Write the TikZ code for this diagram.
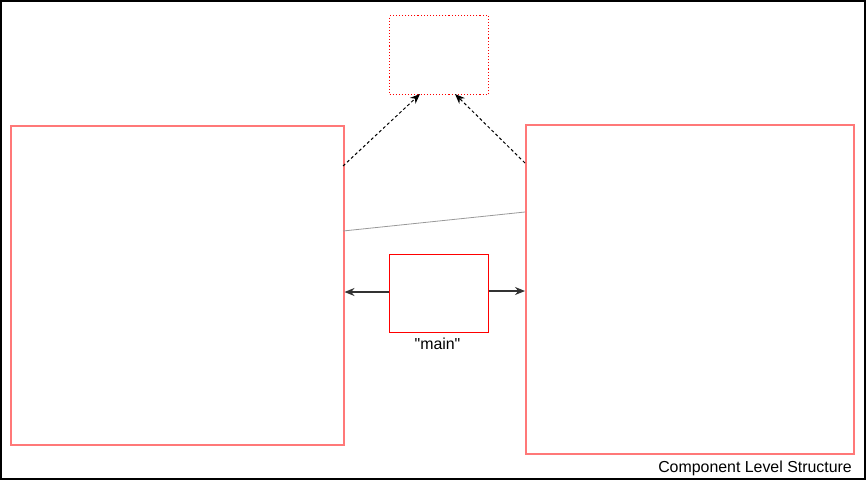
\documentclass[tikz,border=0pt]{standalone}
\usepackage{fontspec}
\setmainfont{Liberation Sans}[Ligatures=TeXOff]
\usetikzlibrary{arrows.meta}
\definecolor{lightred}{RGB}{255,120,120}
\begin{document}
\begin{tikzpicture}[x=1pt,y=-1pt,
  compbox/.style={draw=lightred,line width=1.5pt,inner sep=0pt,anchor=north west},
  mainbox/.style={draw=red,line width=1.2pt,inner sep=0pt,anchor=north west},
  extbox/.style={draw=red,line width=1.1pt,dotted,inner sep=0pt,anchor=north west},
  dep/.style={-{Stealth[length=10pt,width=8pt]},line width=1pt,dash pattern=on 3pt off 2.5pt},
  uses/.style={-{Stealth[length=10pt,width=8pt]},line width=1.2pt,draw=black!80},
  lbl/.style={font=\fontsize{15.9}{18}\selectfont,inner sep=0pt}]
\useasboundingbox (0,0) rectangle (866,480);
\draw[line width=1.6pt] (0.8,0.8) rectangle (865.2,479.2);
\node[compbox,minimum width=333pt,minimum height=319pt] (L) at (10,125) {};
\node[compbox,minimum width=328pt,minimum height=329pt] (R) at (525,124) {};
\node[extbox,minimum width=99pt,minimum height=79pt] (T) at (389,15) {};
\node[mainbox,minimum width=99pt,minimum height=78pt] (M) at (389,254) {};
\node[lbl,anchor=north] (ml) at (437.5,338) {"main"};
\node[lbl,anchor=base east] (cap) at (852,472) {Component Level Structure};
\coordinate (la) at (343,166);
\coordinate (ra) at (525,163);
\coordinate (ta) at (420,94);
\coordinate (tb) at (455,94);
\draw[dep] (la) -- (ta);
\draw[dep] (ra) -- (tb);
\coordinate (g1) at (343,231);
\coordinate (g2) at (525,212);
\draw[black!40,line width=0.8pt] (g1) -- (g2);
\draw[uses] (M.west |- 0,292) -- (L.east |- 0,292);
\draw[uses] (M.east |- 0,291) -- (R.west |- 0,291);
\end{tikzpicture}
\end{document}
